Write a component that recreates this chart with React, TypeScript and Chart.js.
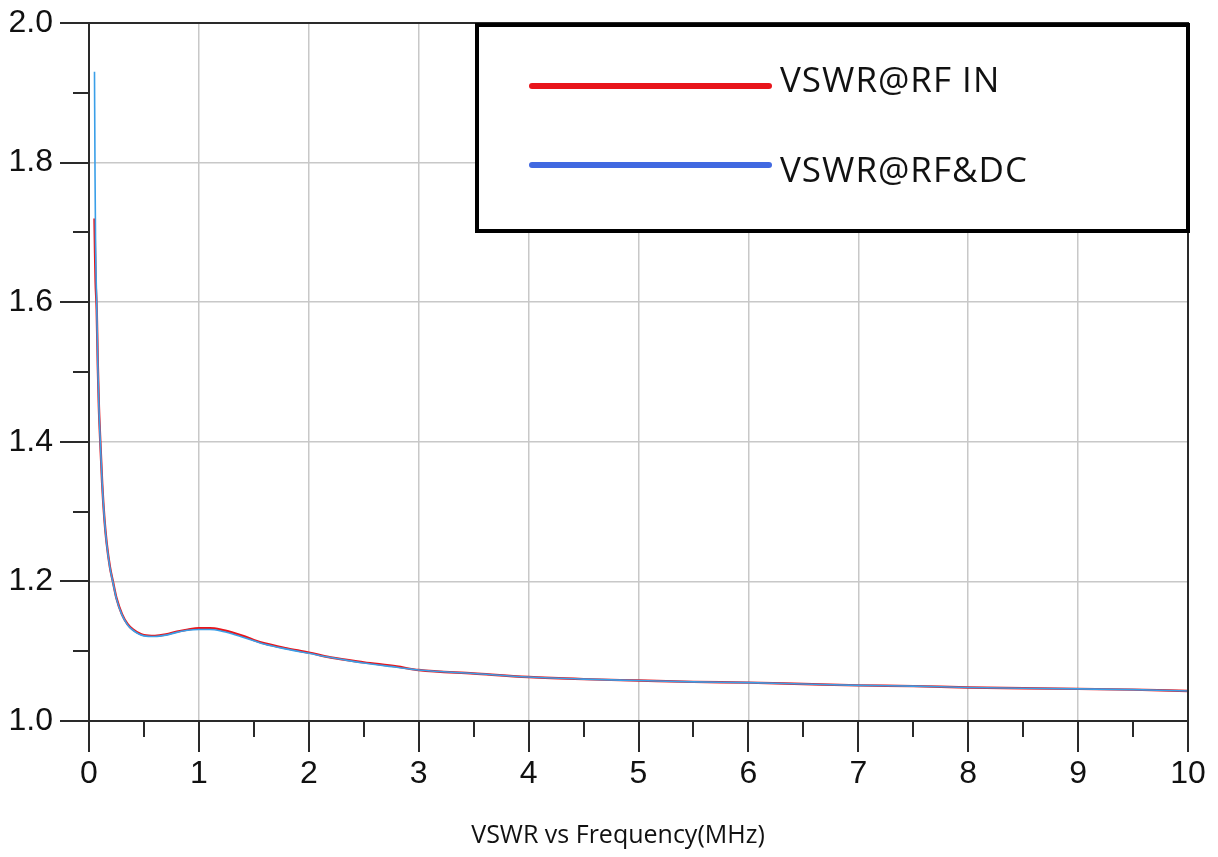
import React, { useEffect, useRef } from "react";
import { Chart, registerables } from "chart.js";

Chart.register(...registerables);

const frequencies = [0.05, 0.055, 0.06, 0.07, 0.08, 0.09, 0.1, 0.12, 0.14, 0.16, 0.19, 0.22, 0.25, 0.3, 0.35, 0.4, 0.5, 0.6, 0.7, 0.8, 0.9, 1.0, 1.1, 1.2, 1.3, 1.4, 1.5, 1.6, 1.8, 2.0, 2.2, 2.5, 2.8, 3.0, 3.5, 4.0, 4.5, 5.0, 5.5, 6.0, 6.5, 7.0, 7.5, 8.0, 8.5, 9.0, 9.5, 10];
const vswrRfDc = [1.93, 1.78, 1.68, 1.6, 1.51, 1.45, 1.41, 1.34, 1.29, 1.255, 1.22, 1.197, 1.175, 1.152, 1.138, 1.13, 1.122, 1.121, 1.123, 1.127, 1.13, 1.131, 1.131, 1.129, 1.125, 1.12, 1.115, 1.11, 1.103, 1.097, 1.091, 1.083, 1.077, 1.073, 1.068, 1.063, 1.06, 1.058, 1.056, 1.055, 1.053, 1.051, 1.05, 1.048, 1.047, 1.046, 1.045, 1.043];
const vswrRfIn = [1.72, 1.67, 1.63, 1.59, 1.51, 1.45, 1.41, 1.34, 1.29, 1.256, 1.221, 1.198, 1.176, 1.153, 1.139, 1.131, 1.123, 1.122, 1.124, 1.128, 1.131, 1.133, 1.133, 1.131, 1.127, 1.122, 1.116, 1.111, 1.104, 1.098, 1.091, 1.084, 1.078, 1.073, 1.068, 1.063, 1.06, 1.058, 1.056, 1.055, 1.053, 1.051, 1.05, 1.048, 1.047, 1.046, 1.045, 1.043];
const seriesNames = ["VSWR@RF IN", "VSWR@RF&DC"];
const xTitle = "VSWR vs Frequency(MHz)";

const RED = "#e8151b";
const BLUE_LINE = "#3a9fe8";
const BLUE_LEGEND = "#4169e1";

const decoPlugin = {
  id: "deco",
  afterDatasetsDraw(chart: any) {
    const { ctx, chartArea, scales } = chart;
    const xs = scales.x;
    const ys = scales.y;
    ctx.save();
    ctx.strokeStyle = "#2a2a2a";
    ctx.lineWidth = 2;
    ctx.strokeRect(chartArea.left, chartArea.top, chartArea.right - chartArea.left, chartArea.bottom - chartArea.top);
    for (let i = 0; i <= 20; i++) {
      const v = i / 2;
      const px = Math.round(xs.getPixelForValue(v));
      const len = i % 2 === 0 ? 31 : 16;
      ctx.beginPath();
      ctx.moveTo(px, chartArea.bottom);
      ctx.lineTo(px, chartArea.bottom + len);
      ctx.stroke();
    }
    for (let i = 0; i <= 10; i++) {
      const v = 1 + i / 10;
      const py = Math.round(ys.getPixelForValue(v));
      const len = i % 2 === 0 ? 29 : 16;
      ctx.beginPath();
      ctx.moveTo(chartArea.left - len, py);
      ctx.lineTo(chartArea.left, py);
      ctx.stroke();
    }
    ctx.restore();
  },
  afterDraw(chart: any) {
    const { ctx, chartArea } = chart;
    ctx.save();
    const bx = 477, by = chartArea.top + 2, bw = chartArea.right - 477, bh = 206;
    ctx.fillStyle = "#ffffff";
    ctx.fillRect(bx, by, bw, bh);
    ctx.strokeStyle = "#000000";
    ctx.lineWidth = 4;
    ctx.strokeRect(bx, by, bw, bh);
    const colors = [RED, BLUE_LEGEND];
    const lineYs = [86, 165];
    const textYs = [92, 182];
    ctx.lineCap = "round";
    for (let i = 0; i < 2; i++) {
      ctx.strokeStyle = colors[i];
      ctx.lineWidth = 6;
      ctx.beginPath();
      ctx.moveTo(532, lineYs[i]);
      ctx.lineTo(769, lineYs[i]);
      ctx.stroke();
      ctx.fillStyle = "#111111";
      ctx.font = '35px "Open Sans"';
      try { (ctx as any).letterSpacing = "1px"; } catch (e) {}
      ctx.textAlign = "left";
      ctx.textBaseline = "alphabetic";
      ctx.fillText(seriesNames[i], 780, textYs[i]);
    }
    try { (ctx as any).letterSpacing = "0px"; } catch (e) {}
    ctx.fillStyle = "#111111";
    ctx.font = '25px "Open Sans"';
    ctx.textAlign = "center";
    ctx.textBaseline = "alphabetic";
    ctx.fillText(xTitle, 618, 843);
    ctx.restore();
  },
};

export default function App() {
  const canvasRef = useRef<HTMLCanvasElement | null>(null);
  useEffect(() => {
    document.body.style.margin = "0";
    const canvas = canvasRef.current;
    if (!canvas) return;
    const chart = new Chart(canvas, {
      type: "line",
      data: {
        datasets: [
          {
            label: seriesNames[1],
            data: frequencies.map((f, i) => ({ x: f, y: vswrRfDc[i] })),
            borderColor: BLUE_LINE,
            borderWidth: 1.6,
            pointRadius: 0,
            cubicInterpolationMode: "monotone",
            order: 0,
          },
          {
            label: seriesNames[0],
            data: frequencies.map((f, i) => ({ x: f, y: vswrRfIn[i] })),
            borderColor: RED,
            borderWidth: 2.4,
            pointRadius: 0,
            cubicInterpolationMode: "monotone",
            order: 1,
          },
        ],
      },
      options: {
        responsive: false,
        animation: false,
        devicePixelRatio: 1,
        layout: { padding: { top: 23, right: 30, left: 0, bottom: 0 } },
        plugins: { legend: { display: false }, tooltip: { enabled: false }, title: { display: false } },
        scales: {
          x: {
            type: "linear",
            min: 0,
            max: 10,
            ticks: {
              stepSize: 1,
              padding: 34,
              color: "#111111",
              font: { family: '"Liberation Sans", Arial, sans-serif', size: 32 },
              maxRotation: 0,
            },
            grid: { color: "#c8c8c8", lineWidth: 1.5, drawTicks: false },
            border: { display: false },
            afterFit(scale: any) {
              scale.height = 136;
              scale.paddingLeft = 0;
              scale.paddingRight = 0;
            },
          },
          y: {
            type: "linear",
            min: 1.0,
            max: 2.0,
            ticks: {
              stepSize: 0.2,
              padding: 36,
              color: "#111111",
              font: { family: '"Liberation Sans", Arial, sans-serif', size: 32 },
              callback: (v: any) => Number(v).toFixed(1),
            },
            grid: { color: "#c8c8c8", lineWidth: 1.5, drawTicks: false },
            border: { display: false },
            afterFit(scale: any) {
              scale.width = 89;
              scale.paddingTop = 0;
              scale.paddingBottom = 0;
            },
          },
        },
      },
      plugins: [decoPlugin],
    });
    return () => chart.destroy();
  }, []);
  return (
    <div style={{ width: 1218, height: 857, background: "#ffffff" }}>
      <canvas ref={canvasRef} width={1218} height={857} style={{ display: "block" }} />
    </div>
  );
}
